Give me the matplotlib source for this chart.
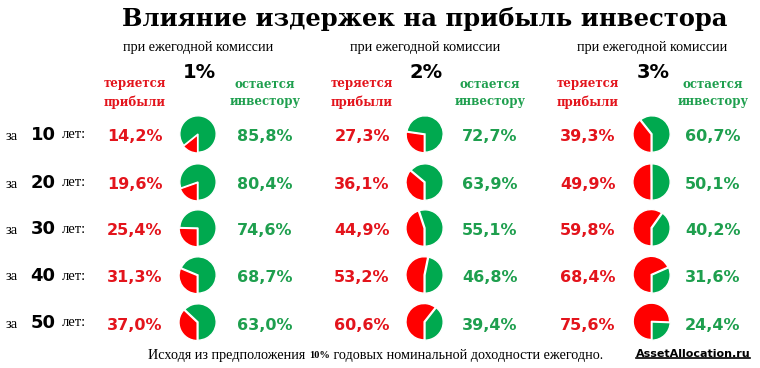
import matplotlib
matplotlib.use("Agg")
import matplotlib.pyplot as plt

years = [10, 20, 30, 40, 50]
fees = ["1%", "2%", "3%"]
lost_1 = [14.2, 19.6, 25.4, 31.3, 37.0]
kept_1 = [85.8, 80.4, 74.6, 68.7, 63.0]
lost_2 = [27.3, 36.1, 44.9, 53.2, 60.6]
kept_2 = [72.7, 63.9, 55.1, 46.8, 39.4]
lost_3 = [39.3, 49.9, 59.8, 68.4, 75.6]
kept_3 = [60.7, 50.1, 40.2, 31.6, 24.4]
lost_all = [lost_1, lost_2, lost_3]
kept_all = [kept_1, kept_2, kept_3]

title = "Влияние издержек на прибыль инвестора"
subtitle = "при ежегодной комиссии"
lost_lbl = ["теряется", "прибыли"]
kept_lbl = ["остается", "инвестору"]
footer_a = "Исходя из предположения "
footer_b = "10%"
footer_c = " годовых номинальной доходности ежегодно."
site = "AssetAllocation.ru"

RED_T = "#E3141C"
GREEN_T = "#1E9F4E"
RED_P = "#FF0000"
GREEN_P = "#00A94F"

W, H = 760, 368
fig = plt.figure(figsize=(W / 100, H / 100), dpi=100)
fig.patch.set_facecolor("white")

def T(x, y, s, **kw):
    return fig.text(x / W, 1 - y / H, s, ha=kw.pop("ha", "center"),
                    va=kw.pop("va", "center"), **kw)

serif = "Liberation Serif"
dserif = "DejaVu Serif"
sans = "DejaVu Sans"

T(425, 19, title, fontsize=17.5, fontweight="bold", family=dserif)

group_x = [198, 425, 652]
red_x = [135, 362, 588]
green_x = [265, 490, 713]
row_y = [137, 185, 231, 278, 325]

for g in range(3):
    T(group_x[g], 47, subtitle, fontsize=10.2, family=serif)
    T(group_x[g] + 1, 73, fees[g], fontsize=14, fontweight="bold", family=sans)
    T(red_x[g], 84, lost_lbl[0], fontsize=8.5, fontweight="bold", family=dserif, color=RED_T)
    T(red_x[g], 102, lost_lbl[1], fontsize=8.5, fontweight="bold", family=dserif, color=RED_T)
    T(green_x[g], 84, kept_lbl[0], fontsize=8.5, fontweight="bold", family=dserif, color=GREEN_T)
    T(green_x[g], 102, kept_lbl[1], fontsize=8.5, fontweight="bold", family=dserif, color=GREEN_T)
    for r in range(5):
        lv = lost_all[g][r]
        kv = kept_all[g][r]
        T(red_x[g], row_y[r], f"{lv:.1f}%".replace(".", ","), fontsize=11.5,
          fontweight="bold", family=sans, color=RED_T)
        T(green_x[g], row_y[r], f"{kv:.1f}%".replace(".", ","), fontsize=11.5,
          fontweight="bold", family=sans, color=GREEN_T)
        d = 40
        cx, cy = group_x[g], row_y[r] - 3
        ax = fig.add_axes([(cx - d / 2) / W, 1 - (cy + d / 2) / H, d / W, d / H])
        ax.pie([lv, kv], colors=[RED_P, GREEN_P], startangle=270, counterclock=False,
               explode=(0.05, 0), wedgeprops=dict(edgecolor="white", linewidth=1.0))
        ax.set_aspect("equal")
        ax.set_xlim(-1.1, 1.1)
        ax.set_ylim(-1.1, 1.1)
        ax.axis("off")

for r in range(5):
    T(12, row_y[r] - 1, "за", fontsize=10.5, family=serif)
    T(43, row_y[r] - 2, str(years[r]), fontsize=13, fontweight="bold", family=sans)
    T(74, row_y[r] - 2, "лет:", fontsize=10.5, family=serif)

# footer
t1 = T(148, 355, footer_a, fontsize=10.2, family=serif, ha="left")
fig.canvas.draw()
r = fig.canvas.get_renderer()
bb = t1.get_window_extent(r)
t2 = fig.text(bb.x1 / W, 1 - 355 / H, footer_b, fontsize=7.5, fontweight="bold",
              family=serif, ha="left", va="center")
bb2 = t2.get_window_extent(r)
fig.text(bb2.x1 / W, 1 - 355 / H, footer_c, fontsize=10.2, family=serif,
         ha="left", va="center")
ts = T(693, 354, site, fontsize=8, fontweight="bold", family=sans)
bbs = ts.get_window_extent(r)
fig.add_artist(plt.Line2D([bbs.x0 / W, bbs.x1 / W], [(bbs.y0 + 1) / H, (bbs.y0 + 1) / H],
                          color="black", linewidth=1.2))

fig.savefig("out.png", dpi=100, facecolor="white")
